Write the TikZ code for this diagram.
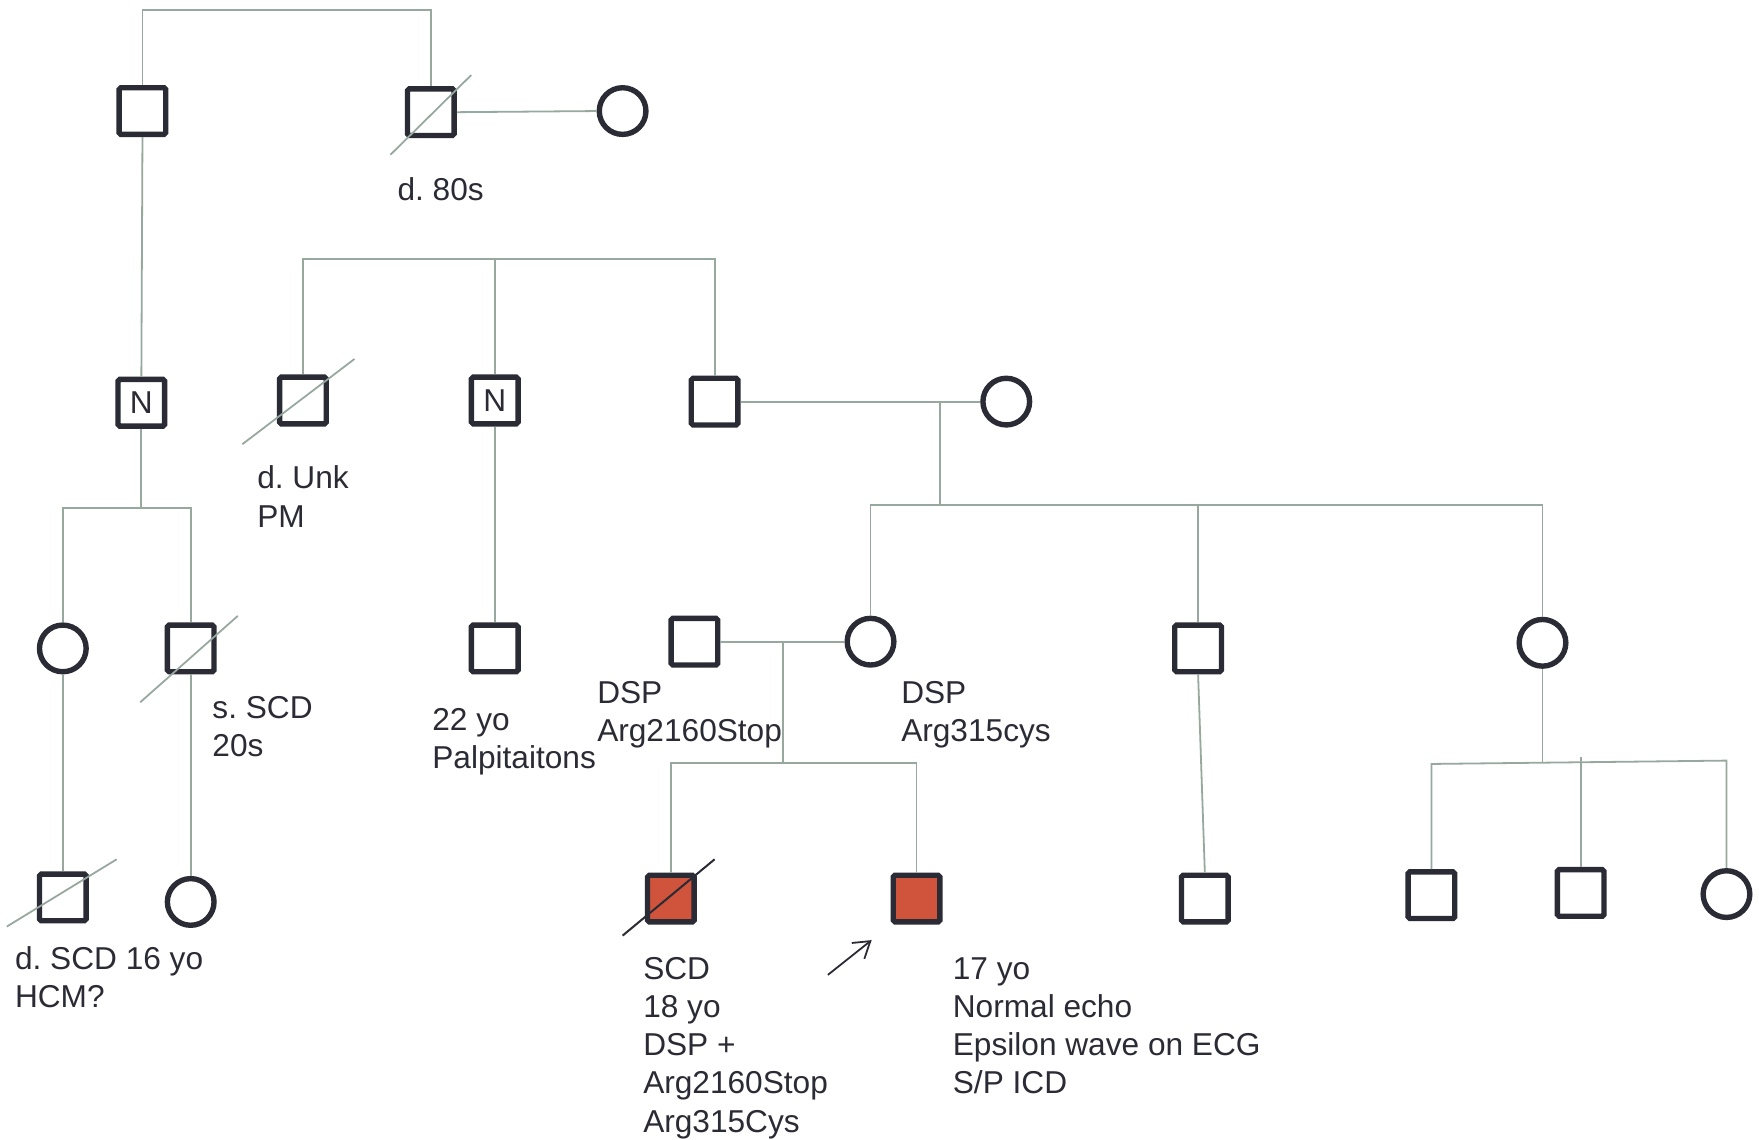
\documentclass[tikz,border=0pt]{standalone}
\usepackage{fontspec}
\setmainfont{Liberation Sans}
\usetikzlibrary{arrows.meta}
\definecolor{ink}{HTML}{2B2B35}
\definecolor{conn}{HTML}{97A89F}
\definecolor{aff}{HTML}{D0533C}
\begin{document}
\frenchspacing
\begin{tikzpicture}[x=0.5pt,y=-0.5pt,
  txt/.style={font=\fontsize{14.1}{17}\selectfont\frenchspacing,text=ink},
  male/.style={rectangle,draw=ink,line width=2.4pt,minimum size=20.8pt,inner sep=0pt,rounded corners=0.8pt,txt},
  female/.style={circle,draw=ink,line width=2.4pt,minimum size=20.8pt,inner sep=0pt},
  affected/.style={fill=aff},
  link/.style={draw=conn,line width=0.8pt},
  dead/.style={draw=conn,line width=0.8pt},
  deadaff/.style={draw=ink,line width=0.9pt},
  lbl/.style={anchor=north west,inner sep=0pt,align=left,txt}]
\useasboundingbox (0,0) rectangle (1568,1016);

% Generation I
\node[male] (A) at (127,99) {};
\node[male] (B) at (384,100) {};
\node[female] (C) at (555,99) {};
\coordinate (topline) at (0,9);
% Generation II
\node[male] (D) at (126,359) {N};
\node[male] (E) at (270,357) {};
\node[male] (F) at (441,357) {N};
\node[male] (G) at (637,358) {};
\node[female] (H) at (897,358) {};
\coordinate (sib2) at (0,231);
% Generation III
\node[female] (L) at (56,578) {};
\node[male] (M) at (170,578) {};
\node[male] (N) at (441,578) {};
\node[male] (O) at (619,572) {};
\node[female] (I) at (776,572) {};
\node[male] (J) at (1068,578) {};
\node[female] (K) at (1375,573) {};
% Generation IV
\node[male] (V) at (56,800) {};
\node[female] (W) at (170,804) {};
\node[male,affected] (P) at (598,801) {};
\node[male,affected] (Q) at (817,801) {};
\node[male] (R) at (1074,801) {};
\node[male] (S) at (1276,798) {};
\node[male] (T) at (1409,796) {};
\node[female] (U) at (1539,797) {};

% connectors
\draw[link] (A.north) -- (A.north |- topline) -- (B.north |- topline) -- (B.north);
\draw[link] (B.east) -- (C.west);
\draw[link] (A.south) -- (D.north);
\draw[link] (E.north) -- (E.north |- sib2) -- (G.north |- sib2) -- (G.north);
\draw[link] (F.north |- sib2) -- (F.north);
% D's children
\coordinate (dsib) at (126,453);
\draw[link] (D.south) -- (dsib);
\draw[link] (L.north) -- (L.north |- dsib) -- (M.north |- dsib) -- (M.north);
\draw[link] (L.south) -- (V.north);
\draw[link] (M.south) -- (W.north);
\draw[link] (F.south) -- (N.north);
% G-H
\draw[link] (G.east) -- (H.west);
\coordinate (ghd) at (838,358);
\coordinate (ghsib) at (838,450);
\draw[link] (ghd) -- (ghsib);
\draw[link] (I.north) -- (I.north |- ghsib) -- (K.north |- ghsib) -- (K.north);
\draw[link] (J.north |- ghsib) -- (J.north);
% O-I
\draw[link] (O.east) -- (I.west);
\coordinate (oid) at (698,573);
\coordinate (oisib) at (698,680);
\draw[link] (oid) -- (oisib);
\draw[link] (P.north) -- (P.north |- oisib) -- (Q.north |- oisib) -- (Q.north);
\draw[link] (J.south) -- (R.north);
% K children
\coordinate (kd) at (1375,679);
\coordinate (ks) at (1276,681);
\coordinate (ku) at (1539,678);
\coordinate (kt) at (1409,675);
\draw[link] (K.south) -- (kd);
\draw[link] (S.north) -- (ks) -- (ku) -- (U.north);
\draw[link] (kt) -- (T.north);

% deceased slashes
\draw[dead] ([shift={(-36,38)}]B.center) -- ([shift={(36,-33)}]B.center);
\draw[dead] ([shift={(-54,39)}]E.center) -- ([shift={(46,-37)}]E.center);
\draw[dead] ([shift={(-45,48)}]M.center) -- ([shift={(42,-29)}]M.center);
\draw[dead] ([shift={(-50,26)}]V.center) -- ([shift={(48,-34)}]V.center);
\draw[deadaff] ([shift={(-43,33)}]P.center) -- ([shift={(39,-35)}]P.center);

% proband arrow
\coordinate (arrs) at (738,869);
\draw[draw=ink,line width=0.8pt,-{Straight Barb[length=7pt,width=9pt]}] (arrs) -- ([shift={(-40,37)}]Q.center);

% labels
\node[lbl] (lB) at (354,158) {d. 80s};
\node[lbl] (lE) at (229,415) {d. Unk\\PM};
\node[lbl] (lM) at (189,620) {s. SCD\\20s};
\node[lbl] (lN) at (385,631) {22 yo\\Palpitaitons};
\node[lbl] (lO) at (532,607) {DSP\\Arg2160Stop};
\node[lbl] (lI) at (803,607) {DSP\\Arg315cys};
\node[lbl] (lV) at (13,843) {d. SCD 16 yo\\HCM?};
\node[lbl] (lP) at (573,853) {SCD\\18 yo\\DSP +\\Arg2160Stop\\Arg315Cys};
\node[lbl] (lQ) at (849,853) {17 yo\\Normal echo\\Epsilon wave on ECG\\S/P ICD};
\end{tikzpicture}
\end{document}
